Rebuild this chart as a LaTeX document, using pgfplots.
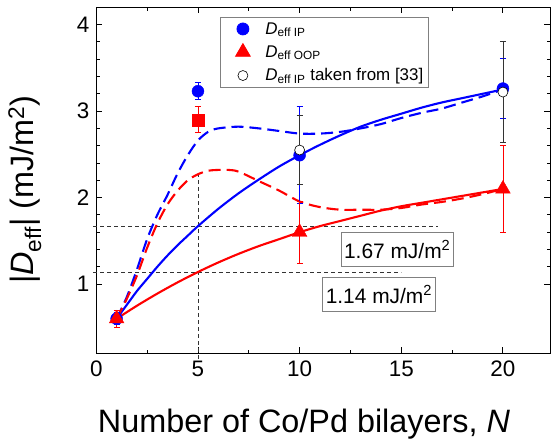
\documentclass[border=0pt]{standalone}
\usepackage{fontspec}
\setmainfont{Liberation Sans}
\usepackage{pgfplots}
\pgfplotsset{compat=1.18}
\usetikzlibrary{calc}

\begin{document}
\begin{tikzpicture}
\begin{axis}[
  scale only axis, width=454bp, height=346bp,
  xmin=0, xmax=22.33, ymin=0.2, ymax=4.2,
  xtick={0,5,10,15,20}, ytick={1,2,3,4},
  minor x tick num=1, minor y tick num=4,
  tick align=inside,
  major tick length=6bp, minor tick length=3.5bp,
  every tick/.style={black, line width=0.9bp},
  axis line style={line width=1.2bp},
  /pgf/number format/assume math mode=true,
  ticklabel style={font=\fontsize{22.5}{27}\selectfont},
  xticklabel style={yshift=-4bp},
  yticklabel style={xshift=-3.5bp},
  xlabel={Number of Co/Pd bilayers, \textit{N}},
  ylabel={|\textit{D}\textsubscript{eff}| (mJ/m\textsuperscript{2})},
  label style={font=\fontsize{32.5}{39}\selectfont},
  xlabel style={at={(axis description cs:0.4575,-0.2275)}, anchor=base},
  ylabel style={at={(axis description cs:-0.139,0.4725)}, anchor=base},
  clip=false,
  legend cell align=left,
  legend image code/.code={\path[draw=none, fill=none] (0bp,0bp) -- (40bp,0bp); \draw[#1] plot coordinates {(19.5bp,0bp)};},
  legend style={at={(axis description cs:0.2725,0.972)}, anchor=north west,
    draw=gray, line width=0.8bp, font=\fontsize{17}{20}\selectfont,
    row sep=6bp, inner xsep=3bp, inner ysep=3bp},
]
% guide lines
\addplot[black!80, line width=0.9bp, dash pattern=on 4bp off 3bp, forget plot] coordinates {(-0.15,1.67) (16.8,1.67)};
\addplot[black!80, line width=0.9bp, dash pattern=on 4bp off 3bp, forget plot] coordinates {(-0.15,1.13) (15.0,1.13)};
\addplot[black!80, line width=0.9bp, dash pattern=on 4bp off 3bp, forget plot] coordinates {(5,2.28) (5,0.12)};

% fitted curves
\addplot[blue, line width=2.1bp, smooth, forget plot] coordinates {
(1,0.6) (1.5,0.76) (2,0.92) (2.5,1.06) (3,1.2) (3.5,1.33) (4,1.45) (4.5,1.56) (5,1.67) (6,1.87) (7,2.05) (8,2.21) (9,2.36) (10,2.49) (11,2.61) (12,2.72) (13,2.82) (14,2.9) (15,2.97) (16,3.04) (17,3.1) (18,3.15) (19,3.2) (20,3.25)};
\addplot[red, line width=2.1bp, smooth, forget plot] coordinates {
(1,0.6) (2,0.75) (3,0.89) (4,1.02) (5,1.14) (6,1.25) (7,1.35) (8,1.44) (9,1.52) (10,1.6) (11,1.67) (12,1.73) (13,1.79) (14,1.85) (15,1.9) (16,1.94) (17,1.98) (18,2.02) (19,2.06) (20,2.1)};
\addplot[blue, line width=2.1bp, smooth, dash pattern=on 12bp off 6bp, forget plot] coordinates {
(1,0.6) (1.5,0.85) (2,1.17) (2.5,1.52) (3,1.8) (3.5,2.03) (4,2.28) (4.5,2.49) (5,2.66) (5.5,2.76) (6,2.8) (7,2.82) (8,2.8) (9,2.77) (10,2.74) (11,2.74) (12,2.76) (13,2.8) (14,2.85) (15,2.92) (16,2.98) (17,3.03) (18,3.1) (19,3.17) (20,3.25)};
\addplot[red, line width=2.1bp, smooth, dash pattern=on 12bp off 6bp, forget plot] coordinates {
(1,0.6) (1.5,0.83) (2,1.1) (2.5,1.42) (3,1.7) (3.5,1.92) (4,2.08) (4.5,2.2) (5,2.27) (5.5,2.31) (6,2.32) (6.5,2.32) (7,2.3) (8,2.19) (9,2.08) (10,1.955) (11,1.89) (12,1.86) (13,1.86) (14,1.86) (15,1.88) (16,1.92) (17,1.95) (18,1.99) (19,2.04) (20,2.1)};

% D_eff IP (blue)
\addplot[only marks, mark=*, blue, mark size=6bp, forget plot,
  error bars/.cd, y dir=both, y explicit,
  error bar style={line width=0.8bp, blue},
  error mark options={blue, mark size=3bp, line width=0.8bp, rotate=90}]
  table[x=x, y=y, y error=e] {
x y e
1 0.6 0.07
5 3.23 0.1
10 2.49 0.56
20 3.26 0.35
};
% D_eff IP from [33]
\addplot[only marks, mark=*, mark size=5bp, mark options={fill=white, draw=black, line width=0.6bp}, forget plot,
  error bars/.cd, y dir=both, y explicit,
  error bar style={line width=0.8bp, black!80},
  error mark options={black!80, mark size=3bp, line width=0.8bp, rotate=90}]
  table[x=x, y=y, y error=e] {
x y e
10 2.55 0.4
20 3.22 0.58
};
% D_eff OOP (red)
\addplot[only marks, mark=triangle*, red, mark size=8.5bp, forget plot,
  error bars/.cd, y dir=both, y explicit,
  error bar style={line width=0.8bp, red},
  error mark options={red, mark size=3bp, line width=0.8bp, rotate=90}]
  table[x=x, y=y, y error=e] {
x y e
1 0.6 0.1
10 1.6 0.36
20 2.1 0.5
};
\addplot[only marks, mark=square*, red, mark size=6bp, forget plot,
  error bars/.cd, y dir=both, y explicit,
  error bar style={line width=0.8bp, red},
  error mark options={red, mark size=3bp, line width=0.8bp, rotate=90}]
  table[x=x, y=y, y error=e] {
x y e
5 2.9 0.15
};

\node[draw=gray, line width=0.8bp, inner xsep=3bp, minimum height=34bp, font=\fontsize{21}{25}\selectfont] at (axis cs:14.8,1.40) {1.67 mJ/m\textsuperscript{2}};
\node[draw=gray, line width=0.8bp, inner xsep=3bp, minimum height=34bp, font=\fontsize{21}{25}\selectfont] at (axis cs:13.9,0.88) {1.14 mJ/m\textsuperscript{2}};

\addlegendimage{only marks, mark=*, blue, mark size=6bp}
\addlegendentry{\textit{D}\textsubscript{eff IP}}
\addlegendimage{only marks, mark=triangle*, red, mark size=8.5bp}
\addlegendentry{\textit{D}\textsubscript{eff OOP}}
\addlegendimage{only marks, mark=*, mark size=5bp, mark options={fill=white, draw=black, line width=0.6bp}}
\addlegendentry{\textit{D}\textsubscript{eff IP} taken from [33]}
\end{axis}
\pgfresetboundingbox
\path[use as bounding box] ($(current axis.south west)+(-96.3bp,-87.7bp)$) rectangle ($(current axis.north east)+(0.7bp,7.3bp)$);
\end{tikzpicture}
\end{document}
